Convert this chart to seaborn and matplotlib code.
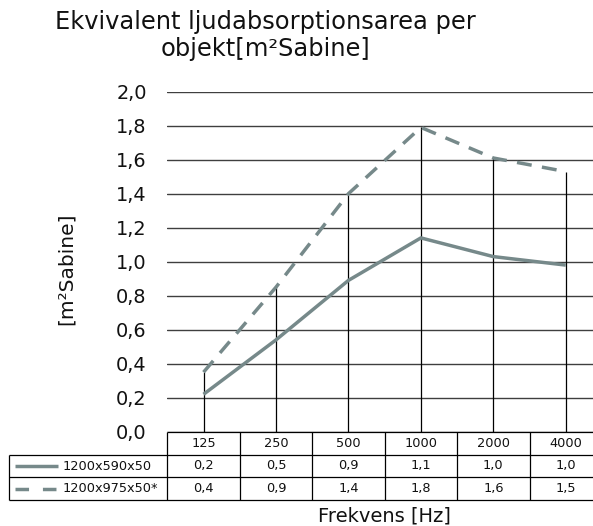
import numpy as np
import pandas as pd
import matplotlib
matplotlib.use("Agg")
import matplotlib.pyplot as plt
from matplotlib.ticker import MultipleLocator, FuncFormatter
from decimal import Decimal, ROUND_HALF_UP
import seaborn as sns

# Frequencies (Hz) and equivalent absorption area per object (m² Sabine)
frequencies = ["125", "250", "500", "1000", "2000", "4000"]
series_names = ["1200x590x50", "1200x975x50*"]
area_590 = [0.22, 0.54, 0.89, 1.14, 1.03, 0.98]
area_975 = [0.35, 0.85, 1.40, 1.79, 1.61, 1.53]

title_lines = ["Ekvivalent ljudabsorptionsarea per", "objekt[m²Sabine]"]
y_label = "[m²Sabine]"
x_label = "Frekvens [Hz]"

LINE_COLOR = "#76898a"
GRID_COLOR = "#3f3f3f"
TEXT_COLOR = "#111111"
DASH = (4.3, 3.0)

sns.set_style("white")
plt.rcParams["font.family"] = ["DejaVu Sans"]

W, H = 593, 526
fig = plt.figure(figsize=(W / 100, H / 100), dpi=100)

# main plot area (extends slightly past the right edge of the canvas)
px_left, px_right, px_top, px_bottom = 167.3, 602.0, 91.7, 431.7
ax = fig.add_axes([px_left / W, (H - px_bottom) / H,
                   (px_right - px_left) / W, (px_bottom - px_top) / H])

pos = np.arange(len(frequencies))
df = pd.DataFrame({
    "pos": np.concatenate([pos, pos]),
    "value": area_590 + area_975,
    "series": [series_names[0]] * len(pos) + [series_names[1]] * len(pos),
})

# drop lines from the axis up to the highest value in each band
top_vals = df.groupby("pos")["value"].max()
ax.vlines(top_vals.index, 0, top_vals.values, color="black", lw=0.9, zorder=2)

sns.lineplot(data=df, x="pos", y="value", style="series",
             dashes={series_names[0]: "", series_names[1]: DASH},
             color=LINE_COLOR, lw=2.5, legend=False, ax=ax, zorder=3)
for ln in ax.get_lines():
    ln.set_dash_capstyle("butt")
    ln.set_solid_capstyle("butt")

ax.set_xlim(-0.5, len(frequencies) - 0.5)
ax.set_ylim(0, 2.0)
ax.yaxis.set_major_locator(MultipleLocator(0.2))
ax.yaxis.set_major_formatter(FuncFormatter(lambda v, _: f"{v:.1f}".replace(".", ",")))
ax.set_xticks([])
ax.set_xlabel("")
ax.set_ylabel("")
ax.grid(axis="y", color=GRID_COLOR, lw=1.0)
ax.grid(axis="x", visible=False)
ax.tick_params(axis="y", length=0, pad=14.8, labelsize=13.9, labelcolor=TEXT_COLOR)
for s in ax.spines.values():
    s.set_visible(False)
ax.set_axisbelow(True)

# data table under the plot
unit_px = (px_right - px_left) / len(frequencies)
label_w = (px_left - 9.3) / unit_px
tab_top, tab_bottom = 432.0, 500.0
tab = fig.add_axes([9.3 / W, (H - tab_bottom) / H,
                    (px_right - 9.3) / W, (tab_bottom - tab_top) / H])
tab.set_xlim(-0.5 - label_w, len(frequencies) - 0.5)
tab.set_ylim(3, 0)
tab.axis("off")

x0, x1 = -0.5, len(frequencies) - 0.5
xl = -0.5 - label_w
tcol = "black"
tab.hlines(0, x0, x1, color=tcol, lw=0.9, clip_on=False)
for r in (1, 2, 3):
    tab.hlines(r, xl, x1, color=tcol, lw=0.9, clip_on=False)
for k in range(len(frequencies) + 1):
    tab.vlines(x0 + k, 0, 3, color=tcol, lw=0.9, clip_on=False)
tab.vlines(xl, 1, 3, color=tcol, lw=0.9, clip_on=False)


def fmt(v):
    d = Decimal(str(v)).quantize(Decimal("0.1"), rounding=ROUND_HALF_UP)
    return str(d).replace(".", ",")


for i, f in enumerate(frequencies):
    tab.text(i, 0.5, f, ha="center", va="center", fontsize=9.3, color=TEXT_COLOR)
    tab.text(i, 1.5, fmt(area_590[i]), ha="center", va="center", fontsize=9.3, color=TEXT_COLOR)
    tab.text(i, 2.5, fmt(area_975[i]), ha="center", va="center", fontsize=9.3, color=TEXT_COLOR)

# legend samples inside the row label cells
def px_to_tab(px):
    return xl + (px - 9.3) / unit_px

tab.plot([px_to_tab(15), px_to_tab(58)], [1.5, 1.5], color=LINE_COLOR, lw=2.5,
         solid_capstyle="butt")
tab.plot([px_to_tab(15), px_to_tab(58)], [2.5, 2.5], color=LINE_COLOR, lw=2.5,
         dashes=(3.9, 4.0), dash_capstyle="butt")
tab.text(px_to_tab(63), 1.5, series_names[0], ha="left", va="center", fontsize=9.3, color=TEXT_COLOR)
tab.text(px_to_tab(63), 2.5, series_names[1], ha="left", va="center", fontsize=9.3, color=TEXT_COLOR)

# titles and axis labels
fig.text(265 / W, 1 - 28.5 / H, title_lines[0], ha="center", va="baseline",
         fontsize=17.4, color=TEXT_COLOR)
fig.text(265 / W, 1 - 56 / H, title_lines[1], ha="center", va="baseline",
         fontsize=17.4, color=TEXT_COLOR)
fig.text(66 / W, 1 - 269 / H, y_label, rotation=90, ha="center", va="center",
         fontsize=14.5, color=TEXT_COLOR)
fig.text((px_left + px_right) / 2 / W, 1 - 521.7 / H, x_label, ha="center",
         va="baseline", fontsize=14, color=TEXT_COLOR)

fig.savefig("out.png", dpi=100)
